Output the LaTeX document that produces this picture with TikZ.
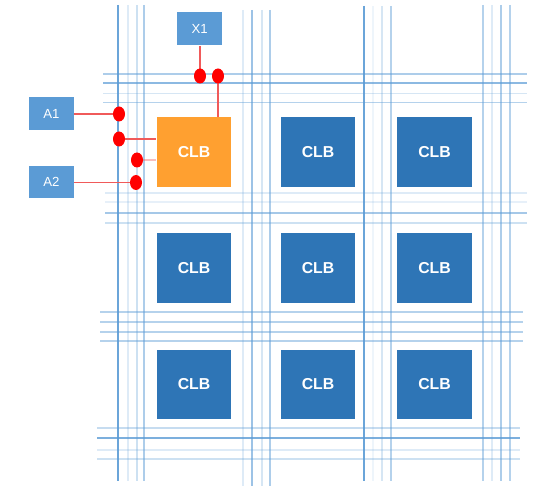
\documentclass[tikz,border=0pt]{standalone}
\usepackage{fontspec}
\setmainfont{Liberation Sans}
\usetikzlibrary{calc}
\definecolor{clbblue}{HTML}{2E75B6}
\definecolor{pinblue}{HTML}{5B9BD5}
\definecolor{trackblue}{HTML}{5B9BD5}
\definecolor{clborange}{HTML}{FFA030}
\definecolor{wirered}{HTML}{F05A5A}
\def\dotx{6}
\def\doty{7.5}

\begin{document}
\begin{tikzpicture}[x=0.02cm, y=-0.02cm,
    clb/.style={fill=clbblue, text=white, minimum width=1.5cm, minimum height=1.4cm, font=\fontsize{9}{10}\selectfont\bfseries},
    pin/.style={fill=pinblue, text=white, minimum width=0.9cm, minimum height=0.66cm, font=\fontsize{7.5}{9}\selectfont},
    track/.style={draw=trackblue, line width=0.8pt},
    wire/.style={draw=wirered, line width=0.6pt}]
    \useasboundingbox (0,0) rectangle (534,486);

    % routing tracks, vertical
    \foreach \x/\o in {118/.9, 128/.2, 137/.3, 144/.5}
        \draw [track, draw opacity=\o] (\x,5) -- (\x,481);
    \foreach \x/\o in {243/.2, 252/.6, 262/.25, 270/.5}
        \draw [track, draw opacity=\o] (\x,10) -- (\x,486);
    \foreach \x/\o in {364/.9, 373/.1, 382/.25, 391/.45}
        \draw [track, draw opacity=\o] (\x,6) -- (\x,481);
    \foreach \x/\o in {483/.45, 492/.2, 501/.5, 510/.45}
        \draw [track, draw opacity=\o] (\x,5) -- (\x,481);

    % routing tracks, horizontal
    \foreach \y/\o in {74/.5, 83/.7, 93.5/.25, 102.7/.45}
        \draw [track, draw opacity=\o] (103,\y) -- (527,\y);
    \foreach \y/\o in {193/.2, 202/.15, 213/.55, 223/.3}
        \draw [track, draw opacity=\o] (105,\y) -- (527,\y);
    \foreach \y/\o in {312/.45, 322/.45, 332/.45, 341/.45}
        \draw [track, draw opacity=\o] (100,\y) -- (523,\y);
    \foreach \y/\o in {428/.35, 438/.8, 450/.2, 459/.3}
        \draw [track, draw opacity=\o] (97,\y) -- (520,\y);

    % logic blocks
    \node [clb, fill=clborange] (clb11) at (194,152) {CLB};
    \node [clb] (clb12) at (318,152) {CLB};
    \node [clb] (clb13) at (434.5,152) {CLB};
    \node [clb] (clb21) at (194,268) {CLB};
    \node [clb] (clb22) at (318,268) {CLB};
    \node [clb] (clb23) at (434.5,268) {CLB};
    \node [clb] (clb31) at (194,384.5) {CLB};
    \node [clb] (clb32) at (318,384.5) {CLB};
    \node [clb] (clb33) at (434.5,384.5) {CLB};

    % pins
    \node [pin] (A1) at (51.5,113.5) {A1};
    \node [pin] (A2) at (51.5,182) {A2};
    \node [pin] (X1) at (199.7,29) {X1};

    % switch points
    \coordinate (sA1) at (119,114);
    \coordinate (sA2) at (136,182.5);
    \coordinate (sX1) at (200,76);
    \coordinate (sOut) at (218,76);
    \coordinate (sIn1) at (119,139);
    \coordinate (sIn2) at (137,160);

    \draw [wire] (A1.east |- sA1) -- (sA1);
    \draw [wire] (A2.east |- sA2) -- (sA2);
    \draw [wire] (X1.south -| sX1) -- (sX1);
    \draw [wire] (sOut) -- (clb11.north -| sOut);
    \draw [wire] (sIn1) -- (clb11.west |- sIn1);
    \draw [wire, draw opacity=.4] (sIn2) -- (clb11.west |- sIn2);

    \fill [red] (sA1) ellipse ({\dotx} and {\doty});
    \fill [red] (sA2) ellipse ({\dotx} and {\doty});
    \fill [red] (sX1) ellipse ({\dotx} and {\doty});
    \fill [red] (sOut) ellipse ({\dotx} and {\doty});
    \fill [red] (sIn1) ellipse ({\dotx} and {\doty});
    \fill [red] (sIn2) ellipse ({\dotx} and {\doty});
\end{tikzpicture}
\end{document}
